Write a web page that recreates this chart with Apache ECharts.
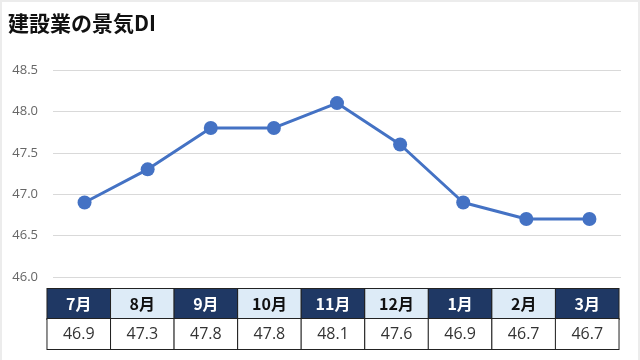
<!DOCTYPE html>
<html><head><meta charset="utf-8">
<script src="https://cdn.jsdelivr.net/npm/echarts@6/dist/echarts.min.js"></script>
<style>
html,body{margin:0;padding:0;background:#ececec;}
#c{position:absolute;left:2px;top:2px;width:636px;height:358px;background:#fff;}
</style></head>
<body><div id="c"></div>
<script>
const titleText = '建設業の景気DI';
const months = ['7月','8月','9月','10月','11月','12月','1月','2月','3月'];
const values = [46.9, 47.3, 47.8, 47.8, 48.1, 47.6, 46.9, 46.7, 46.7];
const yMin = 46.0, yMax = 48.5, yStep = 0.5;

const chart = echarts.init(document.getElementById('c'), null, {renderer:'canvas'});
const FONT = '"Noto Sans CJK JP", "Noto Sans", sans-serif';
const cellW = 62.6;
chart.setOption({
  animation:false,
  backgroundColor:'#fff',
  title:{text:titleText,left:1,top:6,textStyle:{fontFamily:FONT,fontSize:21,fontWeight:'bold',color:'#111'}},
  grid:[
    {left:51,right:17,top:68,bottom:358-275},
    {left:45,right:19,top:286,height:1}
  ],
  xAxis:[
    {type:'category',gridIndex:0,data:months,boundaryGap:true,axisLine:{show:false},axisTick:{show:false},axisLabel:{show:false}},
    {type:'category',gridIndex:1,data:months,position:'bottom',axisLine:{show:false},axisTick:{show:false},
     axisLabel:{interval:0,margin:0,
       formatter:(v,i)=>'{'+(i%2===0?'d':'l')+'|'+v+'}',
       rich:{
         d:{width:cellW,height:30,lineHeight:30,align:'center',backgroundColor:'#1f3864',color:'#fff',fontWeight:'bold',fontSize:16,fontFamily:FONT,borderColor:'#222',borderWidth:1},
         l:{width:cellW,height:30,lineHeight:30,align:'center',backgroundColor:'#ddebf7',color:'#111',fontWeight:'bold',fontSize:16,fontFamily:FONT,borderColor:'#222',borderWidth:1}
       }}},
    {type:'category',gridIndex:1,data:months,position:'bottom',offset:30,axisLine:{show:false},axisTick:{show:false},
     axisLabel:{interval:0,margin:0,
       formatter:(v,i)=>'{v|'+values[i].toFixed(1)+'}',
       rich:{v:{width:cellW,height:30,lineHeight:30,align:'center',backgroundColor:'#fff',color:'#333',fontSize:16,fontFamily:'"Open Sans", "Noto Sans", sans-serif',borderColor:'#222',borderWidth:1}}}}
  ],
  yAxis:[
    {type:'value',gridIndex:0,min:yMin,max:yMax,interval:yStep,axisLine:{show:false},axisTick:{show:false},
     axisLabel:{margin:15,color:'#666',fontSize:13,fontFamily:'"Open Sans", "Noto Sans", sans-serif',formatter:v=>v.toFixed(1)},
     splitLine:{lineStyle:{color:'#d9d9d9',width:1}}},
    {type:'value',gridIndex:1,show:false}
  ],
  series:[{
    type:'line',xAxisIndex:0,yAxisIndex:0,data:values,
    symbol:'circle',symbolSize:14,
    lineStyle:{color:'#4472c4',width:3},
    itemStyle:{color:'#4472c4'}
  }]
});
</script></body></html>
